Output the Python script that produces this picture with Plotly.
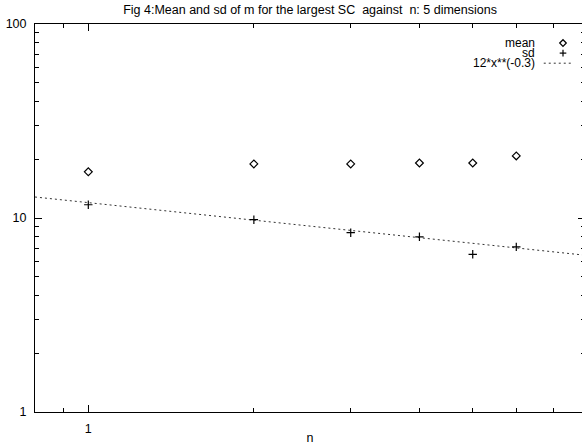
import plotly.graph_objects as go
import numpy as np

n = [1, 2, 3, 4, 5, 6]
mean_m = [17.3, 19.0, 19.0, 19.2, 19.2, 20.9]
sd_m = [11.7, 9.8, 8.4, 8.0, 6.5, 7.1]

fit_x = [0.8, 1, 2, 3, 4, 5, 6, 7, 8]
fit_y = [12 * x ** (-0.3) for x in fit_x]

x_major = [1]
x_minor = [0.8, 0.9, 2, 3, 4, 5, 6, 7]
y_major = [1, 10, 100]
y_minor = [2, 3, 4, 5, 6, 7, 8, 9, 20, 30, 40, 50, 60, 70, 80, 90]

FONT = "Liberation Sans, Arial, sans-serif"
FS = 12.5

fig = go.Figure()
fig.add_trace(go.Scatter(x=fit_x, y=fit_y, mode="lines", name="12*x**(-0.3)",
                         line=dict(color="#333", width=1, dash="2px,3px")))
fig.add_trace(go.Scatter(x=n, y=mean_m, mode="markers", name="mean",
                         marker=dict(symbol="diamond-open", size=6, color="black",
                                     line=dict(width=1.2, color="black"))))
fig.add_trace(go.Scatter(x=n, y=sd_m, mode="markers", name="sd",
                         marker=dict(symbol="cross-thin-open", size=6, color="black",
                                     line=dict(width=1.2, color="black"))))

axis_common = dict(showgrid=False, zeroline=False, showline=True, linecolor="black",
                   linewidth=1, ticks="inside", mirror="ticks", tickcolor="black",
                   automargin=False, ticklabelstandoff=5,
                   tickfont=dict(family=FONT, size=FS, color="black"))

fig.update_xaxes(type="log", range=[np.log10(0.8), np.log10(8)],
                 tickmode="array", tickvals=x_major, ticktext=["1"], ticklen=7,
                 minor=dict(tickmode="array", tickvals=x_minor, ticks="inside",
                            ticklen=4, tickcolor="black"),
                 title=dict(text="n", font=dict(family=FONT, size=FS, color="black"),
                            standoff=2),
                 **axis_common)
fig.update_yaxes(type="log", range=[0, 2],
                 tickmode="array", tickvals=y_major, ticktext=["1", "10", "100"], ticklen=7,
                 minor=dict(tickmode="array", tickvals=y_minor, ticks="inside",
                            ticklen=4, tickcolor="black"),
                 **axis_common)

# legend drawn gnuplot-style: right-aligned text, key sample to the right
LEG_FS = 12
leg_rows = [("mean", 0.951), ("sd", 0.925), ("12*x**(-0.3)", 0.899)]
for txt, yy in leg_rows:
    fig.add_annotation(xref="paper", yref="paper", x=0.911, y=yy, xanchor="right",
                       yanchor="middle", text=txt, showarrow=False, borderpad=0,
                       font=dict(family=FONT, size=LEG_FS, color="black"))

# key samples (paper units; plot area is 550 x 388 px)
kx = 0.96
hx, hy = 3.3 / 550, 3.3 / 388
ky_mean, ky_sd, ky_fit = leg_rows[0][1], leg_rows[1][1], leg_rows[2][1]
fig.add_shape(type="path", xref="paper", yref="paper",
              path=(f"M {kx - hx} {ky_mean} L {kx} {ky_mean + hy} "
                    f"L {kx + hx} {ky_mean} L {kx} {ky_mean - hy} Z"),
              line=dict(color="black", width=1.2))
fig.add_shape(type="line", xref="paper", yref="paper", x0=kx - hx, x1=kx + hx,
              y0=ky_sd, y1=ky_sd, line=dict(color="black", width=1.2))
fig.add_shape(type="line", xref="paper", yref="paper", x0=kx, x1=kx,
              y0=ky_sd - hy, y1=ky_sd + hy, line=dict(color="black", width=1.2))
fig.add_shape(type="line", xref="paper", yref="paper", x0=0.925, x1=0.976,
              y0=ky_fit, y1=ky_fit, line=dict(color="#333", width=1, dash="2px,3px"))

fig.update_layout(
    width=585, height=445,
    margin=dict(l=35, r=0, t=24, b=33),
    paper_bgcolor="white", plot_bgcolor="white",
    showlegend=False,
    title=dict(text="Fig 4:Mean and sd of m for the largest SC\u00a0 against\u00a0 n: 5 dimensions",
               x=0.53, xanchor="center", y=0.978, yanchor="middle",
               font=dict(family=FONT, size=FS, color="black")),
)

fig.write_html("out.html", config={"displayModeBar": False}, post_script=(
    "document.body.style.margin='0';"
    "document.body.style.overflow='hidden';"
    "document.documentElement.style.overflow='hidden';"))
